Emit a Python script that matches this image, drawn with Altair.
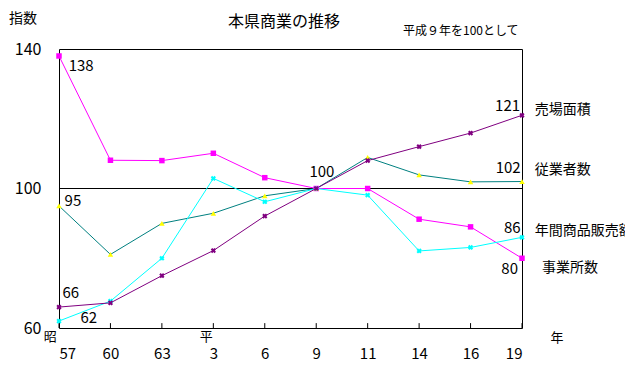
import altair as alt
import pandas as pd

# ---- data ----
years = ["57", "60", "63", "3", "6", "9", "11", "14", "16", "19"]
series_names = ["事業所数", "従業者数", "年間商品販売額", "売場面積"]
jigyosho = [138, 108.1, 108, 110.1, 103.1, 100, 100, 91.2, 89, 80]
jugyosha = [95, 81.1, 90, 92.9, 97.9, 100, 108.9, 103.9, 101.9, 102]
hanbai = [62, 67.7, 80, 102.9, 96.2, 100, 98.1, 82.1, 83.1, 86]
menseki = [66, 67.2, 75, 82.2, 92.1, 100, 108, 112, 115.9, 121]

line_colors = ["#FF00FF", "#008080", "#00FFFF", "#800080"]
point_colors = ["#FF00FF", "#FFFF00", "#00FFFF", "#800080"]
point_shapes = ["square", "triangle-up", "cross", "cross"]

# value labels: text, x index position, y value position
val_text = ["138", "95", "66", "62", "100", "121", "102", "86", "80"]
val_x = [0.43, 0.27, 0.23, 0.58, 5.11, 8.72, 8.73, 8.81, 8.76]
val_y = [135.1, 96.3, 69.9, 62.9, 104.7, 123.7, 106.0, 88.8, 76.9]

# series name labels at the right
name_text = ["売場面積", "従業者数", "年間商品販売額", "事業所数"]
name_x = [9.25, 9.25, 9.25, 9.39]
name_y = [122.5, 105.3, 87.8, 77.3]

# era labels below the axis
era_text = ["昭", "平", "年"]
era_x = [-0.17, 2.86, 9.68]
era_y = [57.3, 57.3, 57.2]

FONT = "Noto Sans CJK JP"

rows = []
for name, vals in zip(series_names, [jigyosho, jugyosha, hanbai, menseki]):
    for i, v in enumerate(vals):
        rows.append({"series": name, "i": i, "value": v})
df = pd.DataFrame(rows)

ticks_df = pd.DataFrame({"i": list(range(len(years)))})
vals_df = pd.DataFrame({"t": val_text, "x": val_x, "y": val_y})
names_df = pd.DataFrame({"t": name_text, "x": name_x, "y": name_y})
era_df = pd.DataFrame({"t": era_text, "x": era_x, "y": era_y})

label_expr = "[" + ",".join("'%s'" % y for y in years) + "][datum.value]"

xscale = alt.Scale(domain=[0, len(years) - 1], nice=False, zero=False)
yscale = alt.Scale(domain=[60, 140], nice=False, zero=False)

x_axis = alt.Axis(values=list(range(len(years))), labelExpr=label_expr, title=None,
                  ticks=False, domain=False, grid=False, labelAngle=0,
                  labelFontSize=15, labelFont=FONT, labelPadding=18, labelColor="black")
y_axis = alt.Axis(values=[60, 100, 140], title=None, ticks=False, domain=False,
                  grid=False, labelFontSize=16, labelFont=FONT, labelPadding=18,
                  labelColor="black")

base = alt.Chart(df)

lines = base.mark_line(strokeWidth=1).encode(
    x=alt.X("i:Q", scale=xscale, axis=x_axis),
    y=alt.Y("value:Q", scale=yscale, axis=y_axis),
    stroke=alt.Stroke("series:N", scale=alt.Scale(domain=series_names, range=line_colors), legend=None),
    detail="series:N",
)

fill_scale = alt.Scale(domain=series_names, range=point_colors)
shape_scale = alt.Scale(domain=series_names, range=point_shapes)

points_a = base.transform_filter(
    alt.FieldOneOfPredicate(field="series", oneOf=series_names[:2])
).mark_point(filled=True, size=30, opacity=1).encode(
    x=alt.X("i:Q", scale=xscale),
    y=alt.Y("value:Q", scale=yscale),
    fill=alt.Fill("series:N", scale=fill_scale, legend=None),
    shape=alt.Shape("series:N", scale=shape_scale, legend=None),
)

points_b = base.transform_filter(
    alt.FieldOneOfPredicate(field="series", oneOf=series_names[2:])
).mark_point(filled=True, size=28, opacity=1, angle=45).encode(
    x=alt.X("i:Q", scale=xscale),
    y=alt.Y("value:Q", scale=yscale),
    fill=alt.Fill("series:N", scale=fill_scale, legend=None),
    shape=alt.Shape("series:N", scale=shape_scale, legend=None),
)

hundred = alt.Chart(pd.DataFrame({"y": [100]})).mark_rule(color="black", strokeWidth=1).encode(
    y=alt.Y("y:Q", scale=yscale)
)

ticks = alt.Chart(ticks_df).mark_rule(color="black", strokeWidth=1).encode(
    x=alt.X("i:Q", scale=xscale),
    y=alt.datum(60, scale=yscale),
    y2=alt.datum(61.4),
)

val_labels = alt.Chart(vals_df).mark_text(font=FONT, fontSize=15, color="black",
                                          align="center", baseline="middle").encode(
    x=alt.X("x:Q", scale=xscale), y=alt.Y("y:Q", scale=yscale), text="t:N")

name_labels = alt.Chart(names_df).mark_text(font=FONT, fontSize=14, color="black",
                                            align="left", baseline="middle").encode(
    x=alt.X("x:Q", scale=xscale), y=alt.Y("y:Q", scale=yscale), text="t:N")

era_labels = alt.Chart(era_df).mark_text(font=FONT, fontSize=13, color="black",
                                         align="center", baseline="middle").encode(
    x=alt.X("x:Q", scale=xscale), y=alt.Y("y:Q", scale=yscale), text="t:N")

dummy = alt.Chart(pd.DataFrame({"a": [0]}))
title = dummy.mark_text(text="本県商業の推移", font=FONT, fontSize=16, color="black",
                        align="center", baseline="middle").encode(
    x=alt.value(225), y=alt.value(-27))
subtitle = dummy.mark_text(text="平成９年を100として", font=FONT, fontSize=12, color="black",
                           align="left", baseline="middle").encode(
    x=alt.value(344), y=alt.value(-18))
ylabel = dummy.mark_text(text="指数", font=FONT, fontSize=14, color="black",
                         align="left", baseline="middle").encode(
    x=alt.value(-50), y=alt.value(-30))

chart = alt.layer(
    hundred, ticks, lines, points_a, points_b, val_labels, name_labels, era_labels,
    title, subtitle, ylabel
).properties(
    width=463, height=279,
    autosize=alt.AutoSizeParams(type="none"),
    padding={"left": 51, "top": 41, "right": 103, "bottom": 34},
    background="white",
).configure_view(stroke="black", strokeWidth=1)

chart.save("out.html", embed_options={"renderer": "svg", "actions": False})
